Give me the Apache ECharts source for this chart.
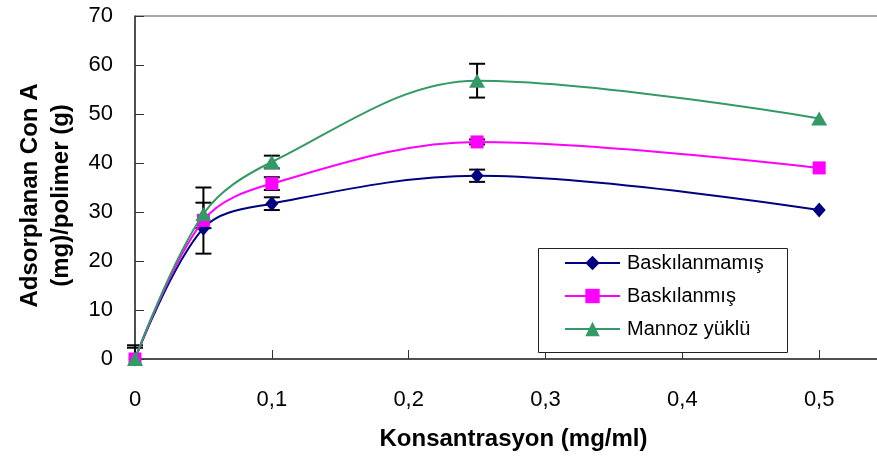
<!DOCTYPE html>
<html>
<head>
<meta charset="utf-8">
<script src="https://cdn.jsdelivr.net/npm/echarts@6/dist/echarts.min.js"></script>
<style>
html,body{margin:0;padding:0;background:#fff;}
#chart{width:877px;height:461px;}
</style>
</head>
<body>
<div id="chart"></div>
<script>
// Data
const xValues = [0, 0.05, 0.1, 0.25, 0.5];
const seriesNames = ['Baskılanmamış', 'Baskılanmış', 'Mannoz yüklü'];
const baskilanmamis = [0, 26.7, 31.7, 37.4, 30.4];
const baskilanmis = [0, 28.3, 35.8, 44.3, 39.0];
const mannozYuklu = [0, 29.6, 40.2, 56.8, 49.1];
// error bars (+ / -)
const errPlusBaskilanmamis = [2.8, 5.2, 1.3, 1.25, 0];
const errMinusBaskilanmamis = [0, 5.2, 1.3, 1.25, 0];
const errPlusBaskilanmis = [2.3, 0, 1.3, 0.5, 0];
const errMinusBaskilanmis = [0, 0, 1.3, 0.5, 0];
const errPlusMannoz = [0, 5.4, 1.3, 3.45, 0];
const errMinusMannoz = [0, 2.9, 1.3, 3.45, 0];
const yTicks = [0, 10, 20, 30, 40, 50, 60, 70];
const xTicks = [0, 0.1, 0.2, 0.3, 0.4, 0.5];

const FONT = '"Liberation Sans", Arial, sans-serif';
const colors = ['#000080', '#FF00FF', '#339966'];
const symbols = ['diamond', 'rect', 'triangle'];
const symbolSizes = [[13, 15], 13, [16, 14]];
const values = [baskilanmamis, baskilanmis, mannozYuklu];
const errPlus = [errPlusBaskilanmamis, errPlusBaskilanmis, errPlusMannoz];
const errMinus = [errMinusBaskilanmamis, errMinusBaskilanmis, errMinusMannoz];

const errData = [];
values.forEach((vals, s) => {
  vals.forEach((v, i) => {
    if (errPlus[s][i] > 0 || errMinus[s][i] > 0) {
      errData.push([xValues[i], v - errMinus[s][i], v + errPlus[s][i]]);
    }
  });
});

const chart = echarts.init(document.getElementById('chart'), null, {renderer: 'canvas'});

const lineSeries = values.map((vals, s) => ({
  name: seriesNames[s],
  type: 'line',
  data: vals.map((v, i) => [xValues[i], v]),
  smooth: 0.35,
  symbol: symbols[s],
  symbolSize: symbolSizes[s],
  lineStyle: {color: colors[s], width: 2},
  itemStyle: {color: colors[s]},
  z: 3 + s,
  animation: false
}));

const errSeries = {
  type: 'custom',
  name: 'err',
  z: 2,
  animation: false,
  data: errData,
  renderItem: function (params, api) {
    const x = api.value(0);
    const lo = api.coord([x, api.value(1)]);
    const hi = api.coord([x, api.value(2)]);
    const half = 8;
    const style = {stroke: '#000', lineWidth: 2};
    const children = [
      {type: 'line', shape: {x1: lo[0], y1: lo[1], x2: hi[0], y2: hi[1]}, style: style},
      {type: 'line', shape: {x1: hi[0] - half, y1: hi[1], x2: hi[0] + half, y2: hi[1]}, style: style}
    ];
    if (api.value(1) > 0.001) {
      children.push({type: 'line', shape: {x1: lo[0] - half, y1: lo[1], x2: lo[0] + half, y2: lo[1]}, style: style});
    }
    return {type: 'group', children: children};
  }
};

chart.setOption({
  animation: false,
  backgroundColor: '#fff',
  textStyle: {fontFamily: FONT},
  grid: {
    left: 135, top: 16, bottom: 102, right: -79,
    outerBoundsMode: 'none',
    containLabel: false,
    show: true, borderColor: '#555', borderWidth: 1, backgroundColor: 'transparent'
  },
  xAxis: {
    type: 'value',
    min: 0, max: 0.6, interval: 0.1,
    name: 'Konsantrasyon (mg/ml)',
    nameLocation: 'middle',
    nameGap: 68,
    nameTextStyle: {fontSize: 24, fontWeight: 'bold', color: '#000', fontFamily: FONT, padding: [0, 64, 0, 0]},
    axisLine: {lineStyle: {color: '#333', width: 1.5}},
    axisTick: {inside: true, length: 9, lineStyle: {color: '#333', width: 1}},
    splitLine: {show: false},
    axisLabel: {
      fontSize: 22, color: '#000', margin: 30, fontFamily: FONT,
      formatter: function (v) {
        if (xTicks.indexOf(Math.round(v * 10) / 10) < 0 || v > 0.55) return '';
        return v === 0 ? '0' : v.toFixed(1).replace('.', ',');
      }
    }
  },
  yAxis: {
    type: 'value',
    min: yTicks[0], max: yTicks[yTicks.length - 1], interval: 10,
    name: 'Adsorplanan Con A\n(mg)/polimer (g)',
    nameLocation: 'middle',
    nameGap: 58,
    nameTextStyle: {fontSize: 24, fontWeight: 'bold', color: '#000', lineHeight: 31, fontFamily: FONT, padding: [0, 16, 0, 0]},
    axisLine: {show: true, lineStyle: {color: '#333', width: 1.5}},
    axisTick: {show: true, inside: true, length: 9, lineStyle: {color: '#333', width: 1}},
    splitLine: {show: false},
    axisLabel: {fontSize: 22, color: '#000', margin: 22, fontFamily: FONT}
  },
  legend: {
    orient: 'vertical',
    left: 564, top: 253,
    padding: 0,
    z: 20,
    itemWidth: 55, itemHeight: 18,
    itemGap: 13,
    data: seriesNames,
    textStyle: {fontSize: 20, color: '#000', lineHeight: 20, fontFamily: FONT, padding: [0, 0, 0, 2]}
  },
  graphic: [{
    type: 'rect',
    shape: {x: 538.5, y: 248.5, width: 249, height: 104},
    style: {fill: '#fff', stroke: '#222', lineWidth: 1},
    z: 1
  }],
  series: [errSeries].concat(lineSeries)
});
</script>
</body>
</html>
